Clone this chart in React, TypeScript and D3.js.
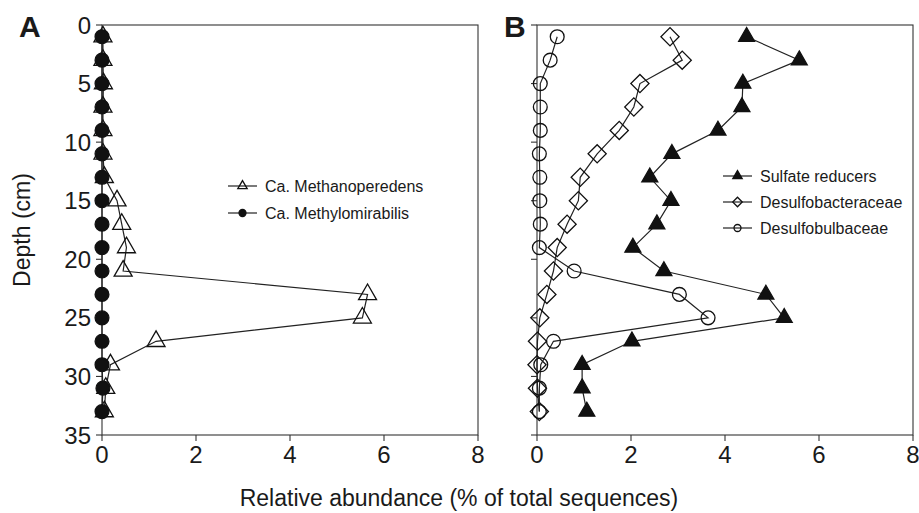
import * as d3 from 'd3';

const W = 919;
const H = 513;
const FONT = '"Liberation Sans", Arial, Helvetica, sans-serif';
const INK = '#1a1a1a';

// depth of each sample (cm)
const depths = [1, 3, 5, 7, 9, 11, 13, 15, 17, 19, 21, 23, 25, 27, 29, 31, 33];

// panel A
const methanoperedens = [0.02, 0.02, 0.03, 0.02, 0.02, 0.02, 0.05, 0.32, 0.42, 0.52, 0.45, 5.65, 5.54, 1.15, 0.18, 0.08, 0.05];
const methylomirabilis = [0, 0, 0, 0, 0, 0, 0, 0, 0, 0, 0, 0, 0, 0, 0, 0.02, 0];

// panel B
const sulfateReducers = [4.46, 5.58, 4.38, 4.36, 3.85, 2.87, 2.4, 2.85, 2.55, 2.04, 2.7, 4.87, 5.26, 2.02, 0.96, 0.96, 1.06];
const desulfobacteraceae = [2.83, 3.09, 2.19, 2.06, 1.75, 1.28, 0.92, 0.88, 0.64, 0.43, 0.35, 0.21, 0.06, 0.01, 0, 0.01, 0.05];
const desulfobulbaceae = [0.43, 0.28, 0.07, 0.07, 0.07, 0.05, 0.06, 0.06, 0.07, 0.05, 0.79, 3.03, 3.64, 0.35, 0.08, 0.05, 0.05];

const depthTicks = [0, 5, 10, 15, 20, 25, 30, 35];
const abundanceTicks = [0, 2, 4, 6, 8];

const Y_TOP = 25;
const Y_BOT = 435;
const TICK = 6;

const yScale = d3.scaleLinear().domain([0, 35]).range([Y_TOP, Y_BOT]);
const xA = d3.scaleLinear().domain([0, 8]).range([102, 478]);
const xB = d3.scaleLinear().domain([0, 8]).range([537, 913]);

type Marker = 'triangle' | 'circle' | 'diamond';

interface Series {
  name: string;
  values: number[];
  marker: Marker;
  filled: boolean;
  size: number;
}

const seriesA: Series[] = [
  { name: 'Ca. Methanoperedens', values: methanoperedens, marker: 'triangle', filled: false, size: 140 },
  { name: 'Ca. Methylomirabilis', values: methylomirabilis, marker: 'circle', filled: true, size: 150 },
];

const seriesB: Series[] = [
  { name: 'Sulfate reducers', values: sulfateReducers, marker: 'triangle', filled: true, size: 110 },
  { name: 'Desulfobacteraceae', values: desulfobacteraceae, marker: 'diamond', filled: false, size: 165 },
  { name: 'Desulfobulbaceae', values: desulfobulbaceae, marker: 'circle', filled: false, size: 150 },
];

function symbolPath(marker: Marker, size: number) {
  const type =
    marker === 'triangle' ? d3.symbolTriangle : marker === 'circle' ? d3.symbolCircle : d3.symbolSquare;
  return d3.symbol().type(type).size(size)() ?? '';
}

function MarkerShape({ marker, size, filled, x, y }: { marker: Marker; size: number; filled: boolean; x: number; y: number }) {
  const rot = marker === 'diamond' ? ' rotate(45)' : '';
  return (
    <path
      d={symbolPath(marker, size)}
      transform={`translate(${x},${y})${rot}`}
      fill={filled ? '#111' : 'none'}
      stroke="#111"
      strokeWidth={1.3}
    />
  );
}

function Panel({
  x,
  series,
  showYLabels,
  label,
  labelX,
  legendX,
  legendY,
}: {
  x: d3.ScaleLinear<number, number>;
  series: Series[];
  showYLabels: boolean;
  label: string;
  labelX: number;
  legendX: number;
  legendY: number[];
}) {
  const [x0, x1] = x.range();
  return (
    <g>
      {/* frame */}
      <rect x={x0} y={Y_TOP} width={x1 - x0} height={Y_BOT - Y_TOP} fill="none" stroke="#333" strokeWidth={1.1} />

      {/* y ticks */}
      {depthTicks.map((t) => (
        <g key={t}>
          <line x1={x0 - TICK} x2={x0} y1={yScale(t)} y2={yScale(t)} stroke="#333" strokeWidth={1.1} />
          {showYLabels && (
            <text
              x={x0 - 11}
              y={yScale(t)}
              dy="0.36em"
              textAnchor="end"
              fontSize={24}
              fill={INK}
            >
              {t}
            </text>
          )}
        </g>
      ))}

      {/* x ticks */}
      {abundanceTicks.map((t) => (
        <g key={t}>
          <line x1={x(t)} x2={x(t)} y1={Y_BOT} y2={Y_BOT + TICK} stroke="#333" strokeWidth={1.1} />
          <text x={x(t)} y={463} textAnchor="middle" fontSize={24} fill={INK}>
            {t}
          </text>
        </g>
      ))}

      {/* series */}
      {series.map((s) => {
        const pts = s.values.map((v, i) => [x(v), yScale(depths[i])] as [number, number]);
        const path = d3.line()(pts) ?? '';
        return (
          <g key={s.name}>
            <path d={path} fill="none" stroke="#222" strokeWidth={1.2} />
            {pts.map((p, i) => (
              <MarkerShape key={i} marker={s.marker} size={s.size} filled={s.filled} x={p[0]} y={p[1]} />
            ))}
          </g>
        );
      })}

      {/* legend */}
      {series.map((s, i) => (
        <g key={s.name}>
          <line x1={legendX} x2={legendX + 29} y1={legendY[i]} y2={legendY[i]} stroke="#222" strokeWidth={1.2} />
          <MarkerShape
            marker={s.marker}
            size={s.marker === 'diamond' ? 45 : 38}
            filled={s.filled}
            x={legendX + 14.5}
            y={legendY[i]}
          />
          <text x={legendX + 37} y={legendY[i]} dy="0.36em" fontSize={16} fill={INK}>
            {s.name}
          </text>
        </g>
      ))}

      <text x={labelX} y={37} fontSize={30} fontWeight={700} fill={INK}>
        {label}
      </text>
    </g>
  );
}

export default function App() {
  return (
    <svg
      width={W}
      height={H}
      viewBox={`0 0 ${W} ${H}`}
      style={{ position: 'absolute', left: 0, top: 0, background: '#fff', fontFamily: FONT }}
    >
      <Panel x={xA} series={seriesA} showYLabels label="A" labelX={19} legendX={228} legendY={[186, 213]} />
      <Panel x={xB} series={seriesB} showYLabels={false} label="B" labelX={504} legendX={723} legendY={[176, 202, 228]} />

      <text
        transform={`translate(30,${(Y_TOP + Y_BOT) / 2}) rotate(-90)`}
        textAnchor="middle"
        fontSize={23}
        fill={INK}
      >
        Depth (cm)
      </text>
      <text x={459} y={506} textAnchor="middle" fontSize={23} fill={INK}>
        Relative abundance (% of total sequences)
      </text>
    </svg>
  );
}
